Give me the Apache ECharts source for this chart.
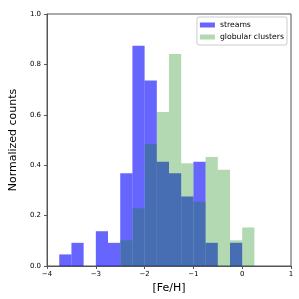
<!DOCTYPE html>
<html><head><meta charset="utf-8">
<script src="https://cdn.jsdelivr.net/npm/echarts@6/dist/echarts.min.js"></script>
<style>html,body{margin:0;padding:0;background:#fff}#c{width:299px;height:299px}</style>
</head><body><div id="c"></div>
<script>
// bin left edges (width 0.25)
const binStarts = [-3.75,-3.5,-3.25,-3.0,-2.75,-2.5,-2.25,-2.0,-1.75,-1.5,-1.25,-1.0,-0.75,-0.5,-0.25,0.0];
const binWidth = 0.25;
const streams = [0.046,0.092,0,0.138,0.092,0.368,0.874,0.736,0.414,0.368,0.276,0.414,0.092,0,0.092,0];
const globular = [0,0,0,0,0,0.102,0.229,0.484,0.611,0.841,0.408,0.255,0.433,0.382,0.102,0.153];
const xTicks = [-4,-3,-2,-1,0,1];
const yTicks = [0.0,0.2,0.4,0.6,0.8,1.0];

function toData(vals){
  return binStarts.map((s,i)=>[s, s+binWidth, vals[i]]);
}
function renderItem(params, api){
  const p0 = api.coord([api.value(0), api.value(2)]);
  const p1 = api.coord([api.value(1), 0]);
  return {type:'rect', shape:{x:p0[0], y:p0[1], width:p1[0]-p0[0], height:p1[1]-p0[1]}, style: api.style()};
}
const font = 'DejaVu Sans';
const chart = echarts.init(document.getElementById('c'), null, {renderer:'canvas'});
chart.setOption({
  animation:false,
  backgroundColor:'#fff',
  textStyle:{fontFamily:font},
  grid:{left:34, right:8, top:14, bottom:30, show:true, borderColor:'#555', borderWidth:1, backgroundColor:'transparent'},
  legend:{
    orient:'vertical', right:12, top:17,
    data:['streams','globular clusters'],
    icon:'rect', itemWidth:15, itemHeight:5, itemGap:2,
    padding:[3,3,3,3],
    borderColor:'#ccc', borderWidth:1, borderRadius:2,
    textStyle:{fontFamily:font, fontSize:7.7, color:'#000', lineHeight:10}
  },
  xAxis:{
    type:'value', min:xTicks[0], max:xTicks[xTicks.length-1], interval:1,
    name:'[Fe/H]', nameLocation:'middle', nameGap:17,
    nameTextStyle:{fontFamily:font, fontSize:11, color:'#000'},
    axisLine:{show:true, onZero:false, lineStyle:{color:'#555', width:1}},
    axisTick:{show:true, length:3, lineStyle:{color:'#555'}},
    axisLabel:{fontFamily:font, fontSize:7, color:'#000', margin:5, formatter:v=>String(v).replace('-','\u2212')},
    splitLine:{show:false}
  },
  yAxis:{
    type:'value', min:yTicks[0], max:yTicks[yTicks.length-1], interval:0.2,
    name:'Normalized counts', nameLocation:'middle', nameGap:24, nameRotate:90,
    nameTextStyle:{fontFamily:font, fontSize:11, color:'#000'},
    axisLine:{show:true, onZero:false, lineStyle:{color:'#555', width:1}},
    axisTick:{show:true, length:3, lineStyle:{color:'#555'}},
    axisLabel:{fontFamily:font, fontSize:7, color:'#000', margin:6, formatter:v=>v.toFixed(1)},
    splitLine:{show:false}
  },
  series:[
    {name:'streams', type:'custom', renderItem, data:toData(streams), encode:{x:[0,1], y:2},
     itemStyle:{color:'rgba(0,0,255,0.6)'}},
    {name:'globular clusters', type:'custom', renderItem, data:toData(globular), encode:{x:[0,1], y:2},
     itemStyle:{color:'rgba(0,128,0,0.3)'}}
  ]
});
</script></body></html>
